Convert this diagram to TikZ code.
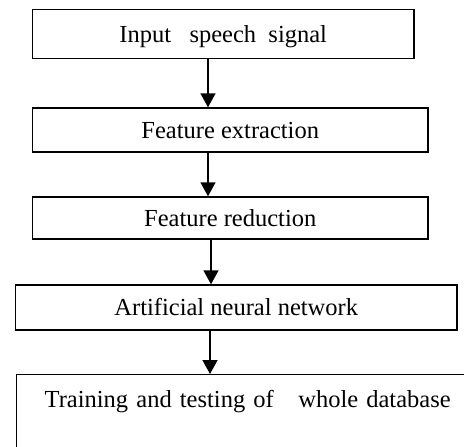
\documentclass[tikz,border=0pt]{standalone}
\usepackage{fontspec}
\setmainfont{Liberation Serif}
\usetikzlibrary{arrows.meta}
\tikzset{
  box/.style={draw, line width=1.4pt, rectangle, inner sep=0pt, text height=16.2pt, text depth=0pt,
    font=\fontsize{24.5}{29}\selectfont},
  arr/.style={line width=1.4pt, -{Triangle[width=15pt,length=14pt]}}
}
\begin{document}
\begin{tikzpicture}[x=1pt,y=-1pt]
\useasboundingbox (0,0) rectangle (464,447);
\clip (0,0) rectangle (464,447);
\node[box, minimum width=381.5pt, minimum height=49pt] (b1) at (223.25,34) {Input\ \ \ speech\ \ signal};
\node[box, minimum width=395.5pt, minimum height=44pt] (b2) at (230.25,130) {Feature extraction};
\node[box, minimum width=395.5pt, minimum height=42pt] (b3) at (230.25,218) {Feature reduction};
\node[box, minimum width=441.5pt, minimum height=45pt] (b4) at (236.25,307.5) {Artificial neural network};
\node[box, anchor=north west, inner xsep=28.5pt, inner ysep=16.8pt, text depth=70pt,
  text width=450pt, align=left] (b5) at (15.5,374) {Training and testing of\ \ \ whole database};
\coordinate (xa) at (208,0);
\coordinate (xb) at (208,0);
\coordinate (xc) at (211,0);
\coordinate (xd) at (210,0);
\draw[arr] (b1.south -| xa) -- (b2.north -| xa);
\draw[arr] (b2.south -| xb) -- (b3.north -| xb);
\draw[arr] (b3.south -| xc) -- (b4.north -| xc);
\draw[arr] (b4.south -| xd) -- (b5.north -| xd);
\end{tikzpicture}
\end{document}
